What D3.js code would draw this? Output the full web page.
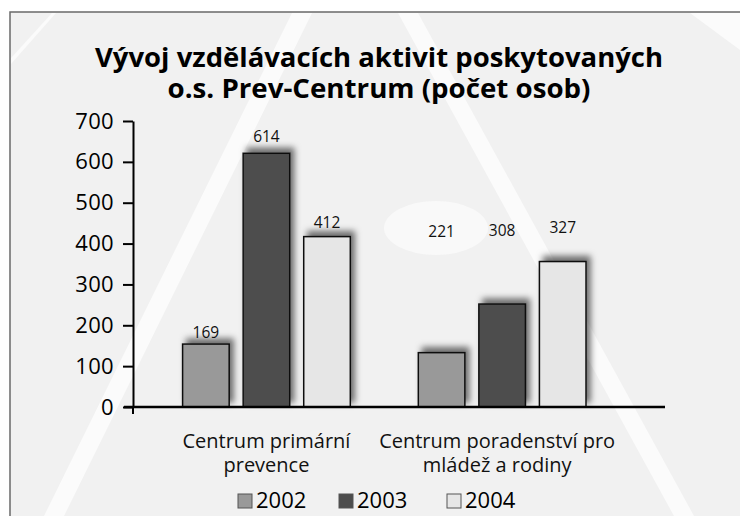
<!DOCTYPE html>
<html>
<head>
<meta charset="utf-8">
<script src="https://cdn.jsdelivr.net/npm/d3@7"></script>
<style>
  html, body { margin: 0; padding: 0; background: #ffffff; }
  svg { display: block; }
</style>
</head>
<body>
<script>
// ---- data ----
const categoryLines = [["Centrum primární", "prevence"], ["Centrum poradenství pro", "mládež a rodiny"]];
const years = ["2002", "2003", "2004"];
const values2002 = [154, 133];
const values2003 = [621, 252];
const values2004 = [417, 356];
const labels2002 = ["169", "221"];
const labels2003 = ["614", "308"];
const labels2004 = ["412", "327"];
const labelPos2002 = [170, 416];
const labelPos2003 = [649, 419];
const labelPos2004 = [439, 426];
const yTicks = [0, 100, 200, 300, 400, 500, 600, 700];
const titleLines = ["Vývoj vzdělávacích aktivit poskytovaných", "o.s. Prev-Centrum (počet osob)"];

const seriesValues = [values2002, values2003, values2004];
const seriesLabels = [labels2002, labels2003, labels2004];
const seriesLabelPos = [labelPos2002, labelPos2003, labelPos2004];
const colors = ["#999999", "#4d4d4d", "#e6e6e6"];

const W = 740, H = 516;
const svg = d3.select("body").append("svg").attr("width", W).attr("height", H);

const defs = svg.append("defs");
const f = defs.append("filter").attr("id", "sh").attr("x", "-30%").attr("y", "-30%").attr("width", "160%").attr("height", "160%");
f.append("feDropShadow").attr("dx", 4).attr("dy", -5).attr("stdDeviation", 3)
  .attr("flood-color", "#000").attr("flood-opacity", 0.55);

// background & frame
svg.append("rect").attr("x", 10).attr("y", 12).attr("width", W).attr("height", H)
  .attr("fill", "#f1f1f1").attr("stroke", "#6a6a6a").attr("stroke-width", 1.5);

// faint watermark
const wm = svg.append("g").attr("fill", "#fbfbfb").attr("stroke", "none");
wm.append("polygon").attr("points", "292,13 312,13 64,516 44,516");
wm.append("polygon").attr("points", "398,13 418,13 694,516 674,516");
wm.append("ellipse").attr("cx", 436).attr("cy", 228).attr("rx", 52).attr("ry", 27).attr("fill", "#f9f9f9");
wm.append("polygon").attr("points", "11,58 52,13 56,13 11,64");
wm.append("polygon").attr("points", "690,13 740,13 740,50");

// scales
const y = d3.scaleLinear().domain([0, 700]).range([407, 121]);
const x0 = d3.scaleBand().domain(d3.range(categoryLines.length)).range([148.6, 620]).paddingInner(0).paddingOuter(0);
const x1 = d3.scaleBand().domain(d3.range(years.length)).range([34, x0.bandwidth() - 34]).paddingInner(0.231).paddingOuter(0);

// title
svg.append("g").selectAll("text").data(titleLines).join("text")
  .attr("x", 379).attr("y", (d, i) => 67 + i * 31)
  .attr("text-anchor", "middle")
  .attr("font-family", "'Open Sans', sans-serif").attr("font-weight", 700).attr("font-size", 27)
  .attr("textLength", (d, i) => i === 0 ? 568 : 423).attr("lengthAdjust", "spacingAndGlyphs")
  .attr("fill", "#000").text(d => d);

// bars
const groups = svg.append("g").selectAll("g").data(categoryLines).join("g")
  .attr("transform", (d, i) => `translate(${x0(i)},0)`);

groups.each(function (d, ci) {
  const g = d3.select(this);
  years.forEach((yr, si) => {
    g.append("rect")
      .attr("x", x1(si)).attr("width", x1.bandwidth())
      .attr("y", y(seriesValues[si][ci])).attr("height", y(0) - y(seriesValues[si][ci]))
      .attr("fill", colors[si]).attr("stroke", "#111").attr("stroke-width", 1.5)
      .attr("filter", "url(#sh)");
  });
  years.forEach((yr, si) => {
    g.append("text")
      .attr("x", x1(si) + x1.bandwidth() / 2)
      .attr("y", y(seriesLabelPos[si][ci]))
      .attr("text-anchor", "middle")
      .attr("font-family", "'Open Sans', sans-serif").attr("font-size", 15.5)
      .attr("fill", "#111").text(seriesLabels[si][ci]);
  });
});

// y axis
const yAxis = d3.axisLeft(y).tickValues(yTicks).tickSize(10).tickSizeOuter(0).tickPadding(9);
const ya = svg.append("g").attr("transform", "translate(133,0)").call(yAxis);
ya.select(".domain").attr("stroke", "#000").attr("stroke-width", 2);
ya.selectAll(".tick line").attr("stroke", "#000").attr("stroke-width", 2);
ya.selectAll(".tick text").attr("font-family", "'Open Sans', sans-serif").attr("font-size", 22)
  .attr("letter-spacing", 0.3).attr("fill", "#000");
ya.append("line").attr("x1", 0).attr("x2", 0).attr("y1", y(0)).attr("y2", y(0) + 7)
  .attr("stroke", "#000").attr("stroke-width", 2);

// x axis baseline
svg.append("line").attr("x1", 124).attr("x2", 665).attr("y1", y(0)).attr("y2", y(0))
  .attr("stroke", "#000").attr("stroke-width", 2.5);

// category labels
const cl = svg.append("g").selectAll("text").data(categoryLines).join("text")
  .attr("x", (d, i) => x0(i) + x0.bandwidth() / 2 - (i === 1 ? 5 : 0))
  .attr("y", 448)
  .attr("text-anchor", "middle")
  .attr("font-family", "'Open Sans', sans-serif").attr("font-size", 20)
  .attr("fill", "#111");
cl.each(function (d) {
  d3.select(this).selectAll("tspan").data(d).join("tspan")
    .attr("x", d3.select(this).attr("x"))
    .attr("dy", (t, j) => j === 0 ? 0 : 24)
    .text(t => t);
});

// legend
const legendX = [238, 339, 447];
const lg = svg.append("g").selectAll("g").data(years).join("g")
  .attr("transform", (d, i) => `translate(${legendX[i]},494)`);
lg.append("rect").attr("width", 14).attr("height", 14)
  .attr("fill", (d, i) => colors[i]).attr("stroke", "#555").attr("stroke-width", 1);
lg.append("text").attr("x", 18).attr("y", 14)
  .attr("font-family", "'Open Sans', sans-serif").attr("font-size", 22)
  .attr("fill", "#000").text(d => d);
</script>
</body>
</html>
